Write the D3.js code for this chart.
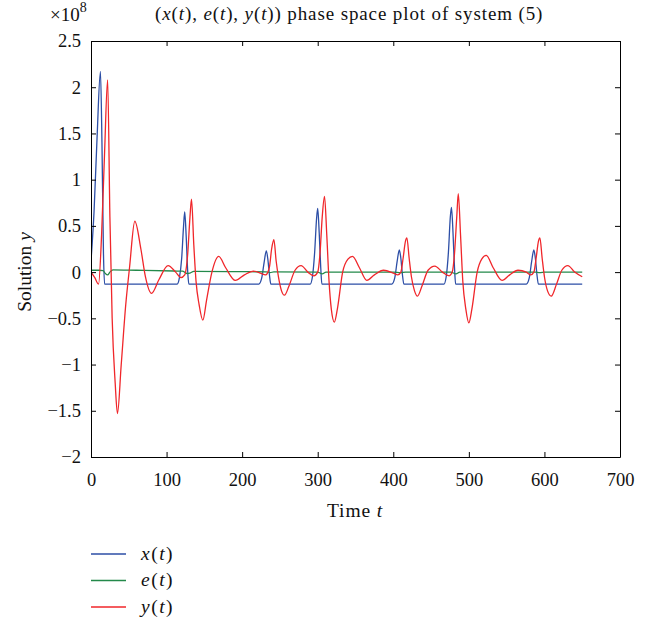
<!DOCTYPE html>
<html lang="en">
<head>
<meta charset="UTF-8">
<title>Phase space plot of system (5)</title>
<script src="https://d3js.org/d3.v7.min.js"></script>
<style>
  body { margin: 0; background: #fff; }
  svg { font-family: "Liberation Serif", "DejaVu Serif", serif; fill: #111; }
  .axis path, .axis line { stroke: #000; }
  .axis text { font-size: 18.5px; fill: #111; font-family: "Liberation Serif", serif; }
</style>
</head>
<body>
<svg width="648" height="625"></svg>
<script>
// values, in units of 1e8
const xTicks = [0, 100, 200, 300, 400, 500, 600, 700];
const yTicks = [-2, -1.5, -1, -0.5, 0, 0.5, 1, 1.5, 2, 2.5];

const xT = [0, 4, 8, 12.5, 14.5, 16.5, 18, 114, 117, 120, 122.5, 124, 126, 128, 129.5,
  222, 226, 229, 232, 234, 236, 238, 290, 293, 296, 298.5, 300, 302, 304, 305.5,
  398, 402, 405, 408, 410, 412, 414, 467, 470, 473, 475.5, 477, 479, 481, 482.5,
  576, 580, 583, 586, 588, 590, 592, 650];
const xV = [0.12, 0.65, 1.45, 2.17, 1.4, 0.2, -0.13, -0.13, -0.06, 0.15, 0.5, 0.65, 0.38, 0.0, -0.13,
  -0.13, -0.06, 0.1, 0.23, 0.14, -0.02, -0.13, -0.13, -0.05, 0.22, 0.58, 0.69, 0.42, 0.05, -0.13,
  -0.13, -0.06, 0.11, 0.24, 0.15, -0.02, -0.13, -0.13, -0.05, 0.22, 0.6, 0.70, 0.43, 0.05, -0.13,
  -0.13, -0.06, 0.11, 0.24, 0.15, -0.02, -0.13, -0.13];

const eT = [0, 10, 16, 19, 22, 25, 29, 60, 110, 121, 127, 131, 136, 200, 232, 237, 242, 300, 306, 311,
  400, 410, 416, 476, 483, 488, 588, 594, 600, 650];
const eV = [0.02, 0.02, 0.015, -0.015, -0.03, 0.0, 0.025, 0.02, 0.012, 0.01, -0.015, -0.01, 0.008, 0.005, 0.003, -0.006, 0.003, 0.0, -0.02, 0.0,
  0.0, -0.006, 0.0, 0.0, -0.02, 0.0, 0.0, -0.006, 0.0, 0.0];

const yT = [0, 5, 10, 14, 18, 22, 25, 28, 32, 35, 40, 46, 51, 58, 66, 72, 80, 90, 102, 112, 119,
  124, 128, 131, 133, 136, 139, 143, 148, 153, 160, 169, 178, 191, 203, 215, 224, 231,
  236, 239, 242, 245, 248, 252, 256, 262, 270, 278, 287, 295, 300, 303, 306, 309, 312, 315, 318, 322, 326, 333, 340, 346, 355, 365, 375, 387,
  400, 406, 410, 413, 416, 418, 421, 424, 428, 432, 438, 446, 455, 465, 474, 478, 481, 484, 486, 489, 492, 496, 500, 504, 511, 517, 523, 532, 544, 554, 565,
  576, 582, 586, 589, 592, 594, 597, 600, 604, 609, 616, 623, 631, 640, 650];
const yV = [0.0, -0.06, -0.13, 0.4, 1.3, 2.08, 0.6, -0.5, -1.2, -1.53, -1.0, -0.35, 0.05, 0.55, 0.25, -0.05, -0.23, -0.08, 0.07, 0.0, -0.06,
  -0.03, 0.2, 0.6, 0.79, 0.3, -0.1, -0.35, -0.52, -0.3, 0.0, 0.17, 0.05, -0.09, -0.03, 0.01, -0.01, -0.03,
  0.05, 0.25, 0.35, 0.12, -0.05, -0.2, -0.25, -0.15, 0.02, 0.07, 0.0, -0.04, 0.0, 0.2, 0.6, 0.82, 0.4, -0.1, -0.4, -0.54, -0.4, 0.0, 0.14, 0.17, 0.05, -0.09, -0.03, 0.02,
  -0.01, -0.03, 0.0, 0.15, 0.33, 0.37, 0.15, -0.05, -0.2, -0.26, -0.15, 0.02, 0.065, 0.0, -0.04, 0.0, 0.2, 0.6, 0.85, 0.4, -0.1, -0.4, -0.55, -0.4, 0.0, 0.14, 0.18, 0.05, -0.09, -0.03, 0.02,
  0.0, -0.03, 0.0, 0.15, 0.33, 0.37, 0.15, -0.05, -0.2, -0.26, -0.13, 0.02, 0.07, 0.0, -0.05];

const series = [
  { name: "x", t: xT, v: xV, color: "#2c4ea6" },
  { name: "e", t: eT, v: eV, color: "#23894a" },
  { name: "y", t: yT, v: yV, color: "#f0262a" }
];

const svg = d3.select("svg");
const plot = { left: 91, right: 620, top: 41, bottom: 457 };

const x = d3.scaleLinear().domain([0, 700]).range([plot.left, plot.right]);
const y = d3.scaleLinear().domain([-2, 2.5]).range([plot.bottom, plot.top]);
const fmt = d3.format("~g");

// stretch a text to a wanted width with letter spacing
function fit(t, w) {
  const n = t.text().length;
  const cur = t.node().getComputedTextLength();
  t.attr("letter-spacing", ((w - cur) / n).toFixed(2));
}

// curves
const line = d3.line()
  .x(d => x(d[0]))
  .y(d => y(d[1]))
  .curve(d3.curveMonotoneX);

svg.append("defs").append("clipPath").attr("id", "clip")
  .append("rect").attr("x", plot.left).attr("y", plot.top)
  .attr("width", plot.right - plot.left).attr("height", plot.bottom - plot.top);

svg.append("g").attr("clip-path", "url(#clip)")
  .selectAll("path")
  .data(series)
  .join("path")
    .attr("fill", "none")
    .attr("stroke", d => d.color)
    .attr("stroke-width", 1.3)
    .attr("d", d => line(d.t.map((t, i) => [t, d.v[i]])));

// axes, ticks inward on all sides
const tl = 5;
svg.append("g").attr("class", "axis")
  .attr("transform", `translate(0,${plot.bottom})`)
  .call(d3.axisBottom(x).tickValues(xTicks).tickSizeInner(-tl).tickSizeOuter(0).tickPadding(16).tickFormat(fmt));
svg.append("g").attr("class", "axis")
  .attr("transform", `translate(0,${plot.top})`)
  .call(d3.axisTop(x).tickValues(xTicks).tickSizeInner(-tl).tickSizeOuter(0).tickFormat(""));
svg.append("g").attr("class", "axis")
  .attr("transform", `translate(${plot.left},0)`)
  .call(d3.axisLeft(y).tickValues(yTicks).tickSizeInner(-tl).tickSizeOuter(0).tickPadding(10).tickFormat(fmt));
svg.append("g").attr("class", "axis")
  .attr("transform", `translate(${plot.right},0)`)
  .call(d3.axisRight(y).tickValues(yTicks).tickSizeInner(-tl).tickSizeOuter(0).tickFormat(""));

// texts
svg.append("text").attr("x", 50).attr("y", 21).attr("font-size", 19)
  .html('×10<tspan dy="-9" font-size="14">8</tspan>');

const title = svg.append("text").attr("x", 155).attr("y", 20).attr("font-size", 19);
title.append("tspan").text("(");
title.append("tspan").attr("font-style", "italic").text("x");
title.append("tspan").text("(");
title.append("tspan").attr("font-style", "italic").text("t");
title.append("tspan").text("), ");
title.append("tspan").attr("font-style", "italic").text("e");
title.append("tspan").text("(");
title.append("tspan").attr("font-style", "italic").text("t");
title.append("tspan").text("), ");
title.append("tspan").attr("font-style", "italic").text("y");
title.append("tspan").text("(");
title.append("tspan").attr("font-style", "italic").text("t");
title.append("tspan").text(")) phase space plot of system (5)");
fit(title, 388);

const xl = svg.append("text").attr("x", 327).attr("y", 517).attr("font-size", 19.5);
xl.append("tspan").text("Time ");
xl.append("tspan").attr("font-style", "italic").text("t");
fit(xl, 56);

const yl = svg.append("text").attr("transform", "translate(31,272) rotate(-90)").attr("text-anchor", "middle").attr("font-size", 19.5);
yl.append("tspan").text("Solution ");
yl.append("tspan").attr("font-style", "italic").text("y");

// legend
const lg = svg.append("g").selectAll("g")
  .data(series)
  .join("g")
    .attr("transform", (d, i) => `translate(91,${554 + i * 26.5})`);
lg.append("line").attr("x1", 0).attr("x2", 35).attr("stroke", d => d.color).attr("stroke-width", 1.3);
lg.each(function(d) {
  const t = d3.select(this).append("text").attr("x", 50).attr("y", 5.5).attr("font-size", 19.5);
  t.append("tspan").attr("font-style", "italic").text(d.name);
  t.append("tspan").text("(");
  t.append("tspan").attr("font-style", "italic").text("t");
  t.append("tspan").text(")");
  fit(t, 33);
});
</script>
</body>
</html>
